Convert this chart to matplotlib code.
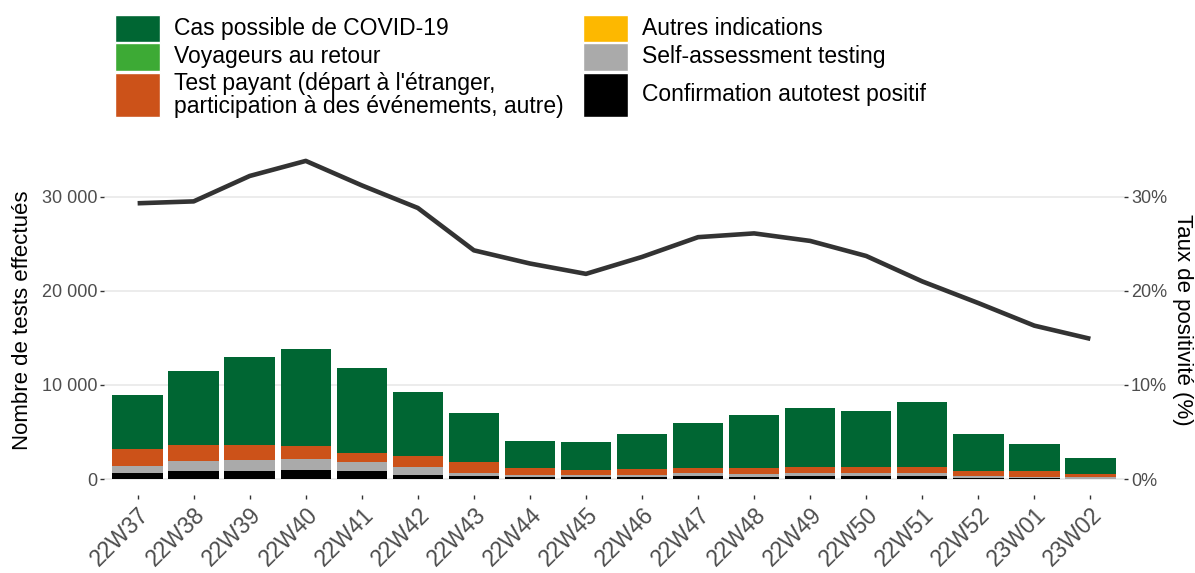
import matplotlib
matplotlib.use('Agg')
import matplotlib.pyplot as plt
from matplotlib.patches import Rectangle
from matplotlib.ticker import FuncFormatter
import numpy as np

plt.rcParams['font.family'] = ['Liberation Sans', 'DejaVu Sans']

###########################################################
# data

weeks = ['22W37', '22W38', '22W39', '22W40', '22W41', '22W42', '22W43',
         '22W44', '22W45', '22W46', '22W47', '22W48', '22W49', '22W50',
         '22W51', '22W52', '23W01', '23W02']

confirmation = [640, 880, 880, 990, 850, 460, 280, 200, 200, 200, 280, 250,
                280, 280, 280, 140, 100, 60]
self_assess = [780, 1030, 1140, 1170, 960, 820, 360, 240, 210, 240, 320, 320,
               360, 360, 360, 210, 170, 150]
autres = [0] * 18
test_payant = [1780, 1670, 1560, 1350, 960, 1200, 1200, 710, 570, 640, 530,
               600, 640, 600, 640, 560, 600, 280]
voyageurs = [0] * 18
cas_possible = [5700, 7900, 9390, 10320, 9040, 6810, 5140, 2900, 2980, 3720,
                4830, 5670, 6310, 6030, 6910, 3900, 2870, 1780]

positivite = [29.3, 29.5, 32.2, 33.8, 31.2, 28.8, 24.3, 22.9, 21.8, 23.6,
              25.7, 26.1, 25.3, 23.7, 21.0, 18.7, 16.3, 14.9]

labels = ['Cas possible de COVID-19', 'Voyageurs au retour',
          "Test payant (départ à l'étranger,\nparticipation à des événements, autre)",
          'Autres indications', 'Self-assessment testing',
          'Confirmation autotest positif']
colors = ['#006633', '#3DAA35', '#CC5219', '#FDB800', '#AAAAAA', '#000000']

###########################################################

W, H = 1195, 573
fig = plt.figure(figsize=(W / 100, H / 100), dpi=100)
ax = fig.add_axes([104 / W, 1 - 495 / H, (1124 - 104) / W, (495 - 145) / H])

x = np.arange(len(weeks))
stack = [confirmation, self_assess, autres, test_payant, voyageurs, cas_possible]
stack_cols = colors[::-1]
bottom = np.zeros(len(weeks))
for vals, col in zip(stack, stack_cols):
    ax.bar(x, vals, width=0.9, bottom=bottom, color=col, linewidth=0, zorder=2)
    bottom += np.array(vals)

top = max(bottom.max(), max(positivite) * 1000)
lo, hi = -0.05 * top, 1.05 * top
ax.set_ylim(lo, hi)
ax.set_xlim(-0.6, len(weeks) - 0.4)
ax.set_yticks([0, 10000, 20000, 30000])
ax.yaxis.set_major_formatter(FuncFormatter(lambda v, p: '{:,.0f}'.format(v).replace(',', ' ')))
ax.set_xticks(x)
ax.set_xticklabels(weeks, rotation=45, ha='right', rotation_mode='anchor')
ax.grid(axis='y', color='#EBEBEB', linewidth=1.3, zorder=0)
ax.set_axisbelow(True)
for s in ax.spines.values():
    s.set_visible(False)
ax.tick_params(axis='y', labelsize=13, labelcolor='#4D4D4D', color='#333333',
               length=3, width=1, pad=2)
ax.tick_params(axis='x', labelsize=16.5, labelcolor='#4D4D4D', color='#333333',
               length=3, width=1, pad=3)
ax.set_ylabel('Nombre de tests effectués', fontsize=16, labelpad=6)

ax2 = ax.twinx()
ax2.plot(x, positivite, color='#333333', linewidth=3.3, zorder=3,
         solid_capstyle='butt')
ax2.set_ylim(lo / 1000, hi / 1000)
ax2.set_yticks([0, 10, 20, 30])
ax2.yaxis.set_major_formatter(FuncFormatter(lambda v, p: '{:.0f}%'.format(v)))
for s in ax2.spines.values():
    s.set_visible(False)
ax2.tick_params(axis='y', labelsize=13, labelcolor='#4D4D4D', color='#333333',
                length=3, width=1, pad=2)
fig.text(1183 / W, 1 - 320 / H, 'Taux de positivité (%)', fontsize=16,
         rotation=270, ha='center', va='center')

# legend drawn by hand (ggplot style, rows aligned)
rows = [(15, 41.7), (43.3, 70.7), (72.7, 117.3)]
cols = [(115, 160, 174), (583, 628, 642)]
for i, (lab, col) in enumerate(zip(labels, colors)):
    c = cols[i // 3]
    r = rows[i % 3]
    fig.add_artist(Rectangle((c[0] / W, 1 - r[1] / H), (c[1] - c[0]) / W,
                             (r[1] - r[0]) / H, transform=fig.transFigure,
                             facecolor=col, edgecolor='white', linewidth=1))
    fig.text(c[2] / W, 1 - (r[0] + r[1]) / 2 / H, lab, fontsize=16.5,
             va='center', ha='left', linespacing=1.0)

fig.savefig('out.png', dpi=100)
